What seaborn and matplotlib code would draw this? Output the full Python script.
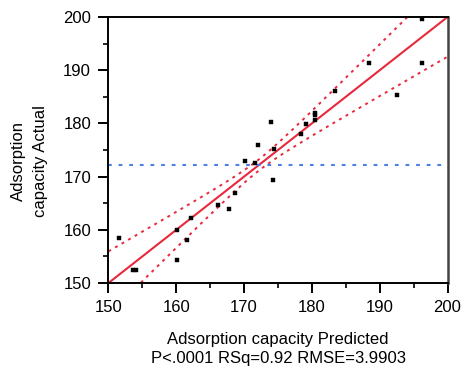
import numpy as np
import pandas as pd
import seaborn as sns
import matplotlib.pyplot as plt
from matplotlib.ticker import MultipleLocator

predicted = [151.5, 153.6, 154.1, 160.1, 160.1, 161.6, 162.1, 166.1, 167.7, 168.7,
             170.1, 171.6, 172.1, 174.2, 174.4, 173.9, 178.4, 179.1, 180.4, 180.5,
             180.4, 183.4, 188.4, 192.6, 196.2, 196.2]
actual = [158.4, 152.4, 152.4, 160.0, 154.4, 158.1, 162.3, 164.7, 164.0, 167.0,
          172.9, 172.6, 175.9, 169.3, 175.2, 180.3, 178.0, 179.9, 182.0, 181.5,
          180.6, 186.0, 191.3, 185.3, 191.3, 199.6]
mean_actual = 172.1
# parametros da curva de confianca
ci_center = 1.05
ci_spread = 0.265

x_ticks = [150, 160, 170, 180, 190, 200]
y_ticks = [150, 160, 170, 180, 190, 200]

df = pd.DataFrame({'predicted': predicted, 'actual': actual})

sns.set_style('white', {'text.color': 'black', 'axes.labelcolor': 'black',
                        'xtick.color': 'black', 'ytick.color': 'black'})
plt.rcParams['font.family'] = ['Liberation Sans', 'DejaVu Sans']

fig = plt.figure(figsize=(4.64, 3.71), dpi=100)
ax = fig.add_axes([0.2338, 0.2372, 0.7307, 0.717])

red = '#e8283c'

# linha de ajuste e curvas de confianca
grid = np.linspace(x_ticks[0], x_ticks[-1], 200)
half = np.sqrt(ci_center ** 2 + (ci_spread * (grid - mean_actual)) ** 2)
fit = pd.DataFrame({'x': grid, 'fit': grid, 'up': grid + half, 'lo': grid - half})

sns.lineplot(data=fit, x='x', y='fit', color=red, lw=1.5, ax=ax)
sns.lineplot(data=fit, x='x', y='up', color=red, lw=1.4, dashes=False, ax=ax,
             linestyle=(0, (1.5, 2.4)))
sns.lineplot(data=fit, x='x', y='lo', color=red, lw=1.4, dashes=False, ax=ax,
             linestyle=(0, (1.5, 2.4)))
ax.axhline(mean_actual, color='#4a7fe8', lw=1.5, linestyle=(0, (1.8, 3.3)))

sns.scatterplot(data=df, x='predicted', y='actual', marker='s', s=11, color='black',
                edgecolor='black', linewidth=0.3, ax=ax, zorder=5)

ax.set_xlim(150, 200)
ax.set_ylim(150, 200)
ax.set_xticks(x_ticks)
ax.set_yticks(y_ticks)
ax.xaxis.set_minor_locator(MultipleLocator(5))
ax.yaxis.set_minor_locator(MultipleLocator(5))
ax.tick_params(which='major', direction='out', length=7.5, width=1.4, labelsize=12,
               color='black', labelcolor='black', bottom=True, left=True)
ax.tick_params(axis='x', which='major', pad=5)
ax.tick_params(axis='y', which='major', pad=5)
ax.tick_params(which='minor', direction='out', length=3.8, width=1.2, color='black',
               bottom=True, left=True)
for side in ['left', 'bottom', 'top']:
    ax.spines[side].set_color('black')
    ax.spines[side].set_linewidth(1.4)
ax.spines['right'].set_color('#444444')
ax.spines['right'].set_linewidth(1.8)

ax.set_xlabel('Adsorption capacity Predicted\nP<.0001 RSq=0.92 RMSE=3.9903',
              fontsize=12, linespacing=1.3, color='black')
ax.xaxis.set_label_coords(0.5, -0.185)
ax.set_ylabel('Adsorption\ncapacity Actual', fontsize=12, linespacing=1.6,
              color='black')
ax.yaxis.set_label_coords(-0.178, 0.46)

plt.savefig('out.png', dpi=100)
